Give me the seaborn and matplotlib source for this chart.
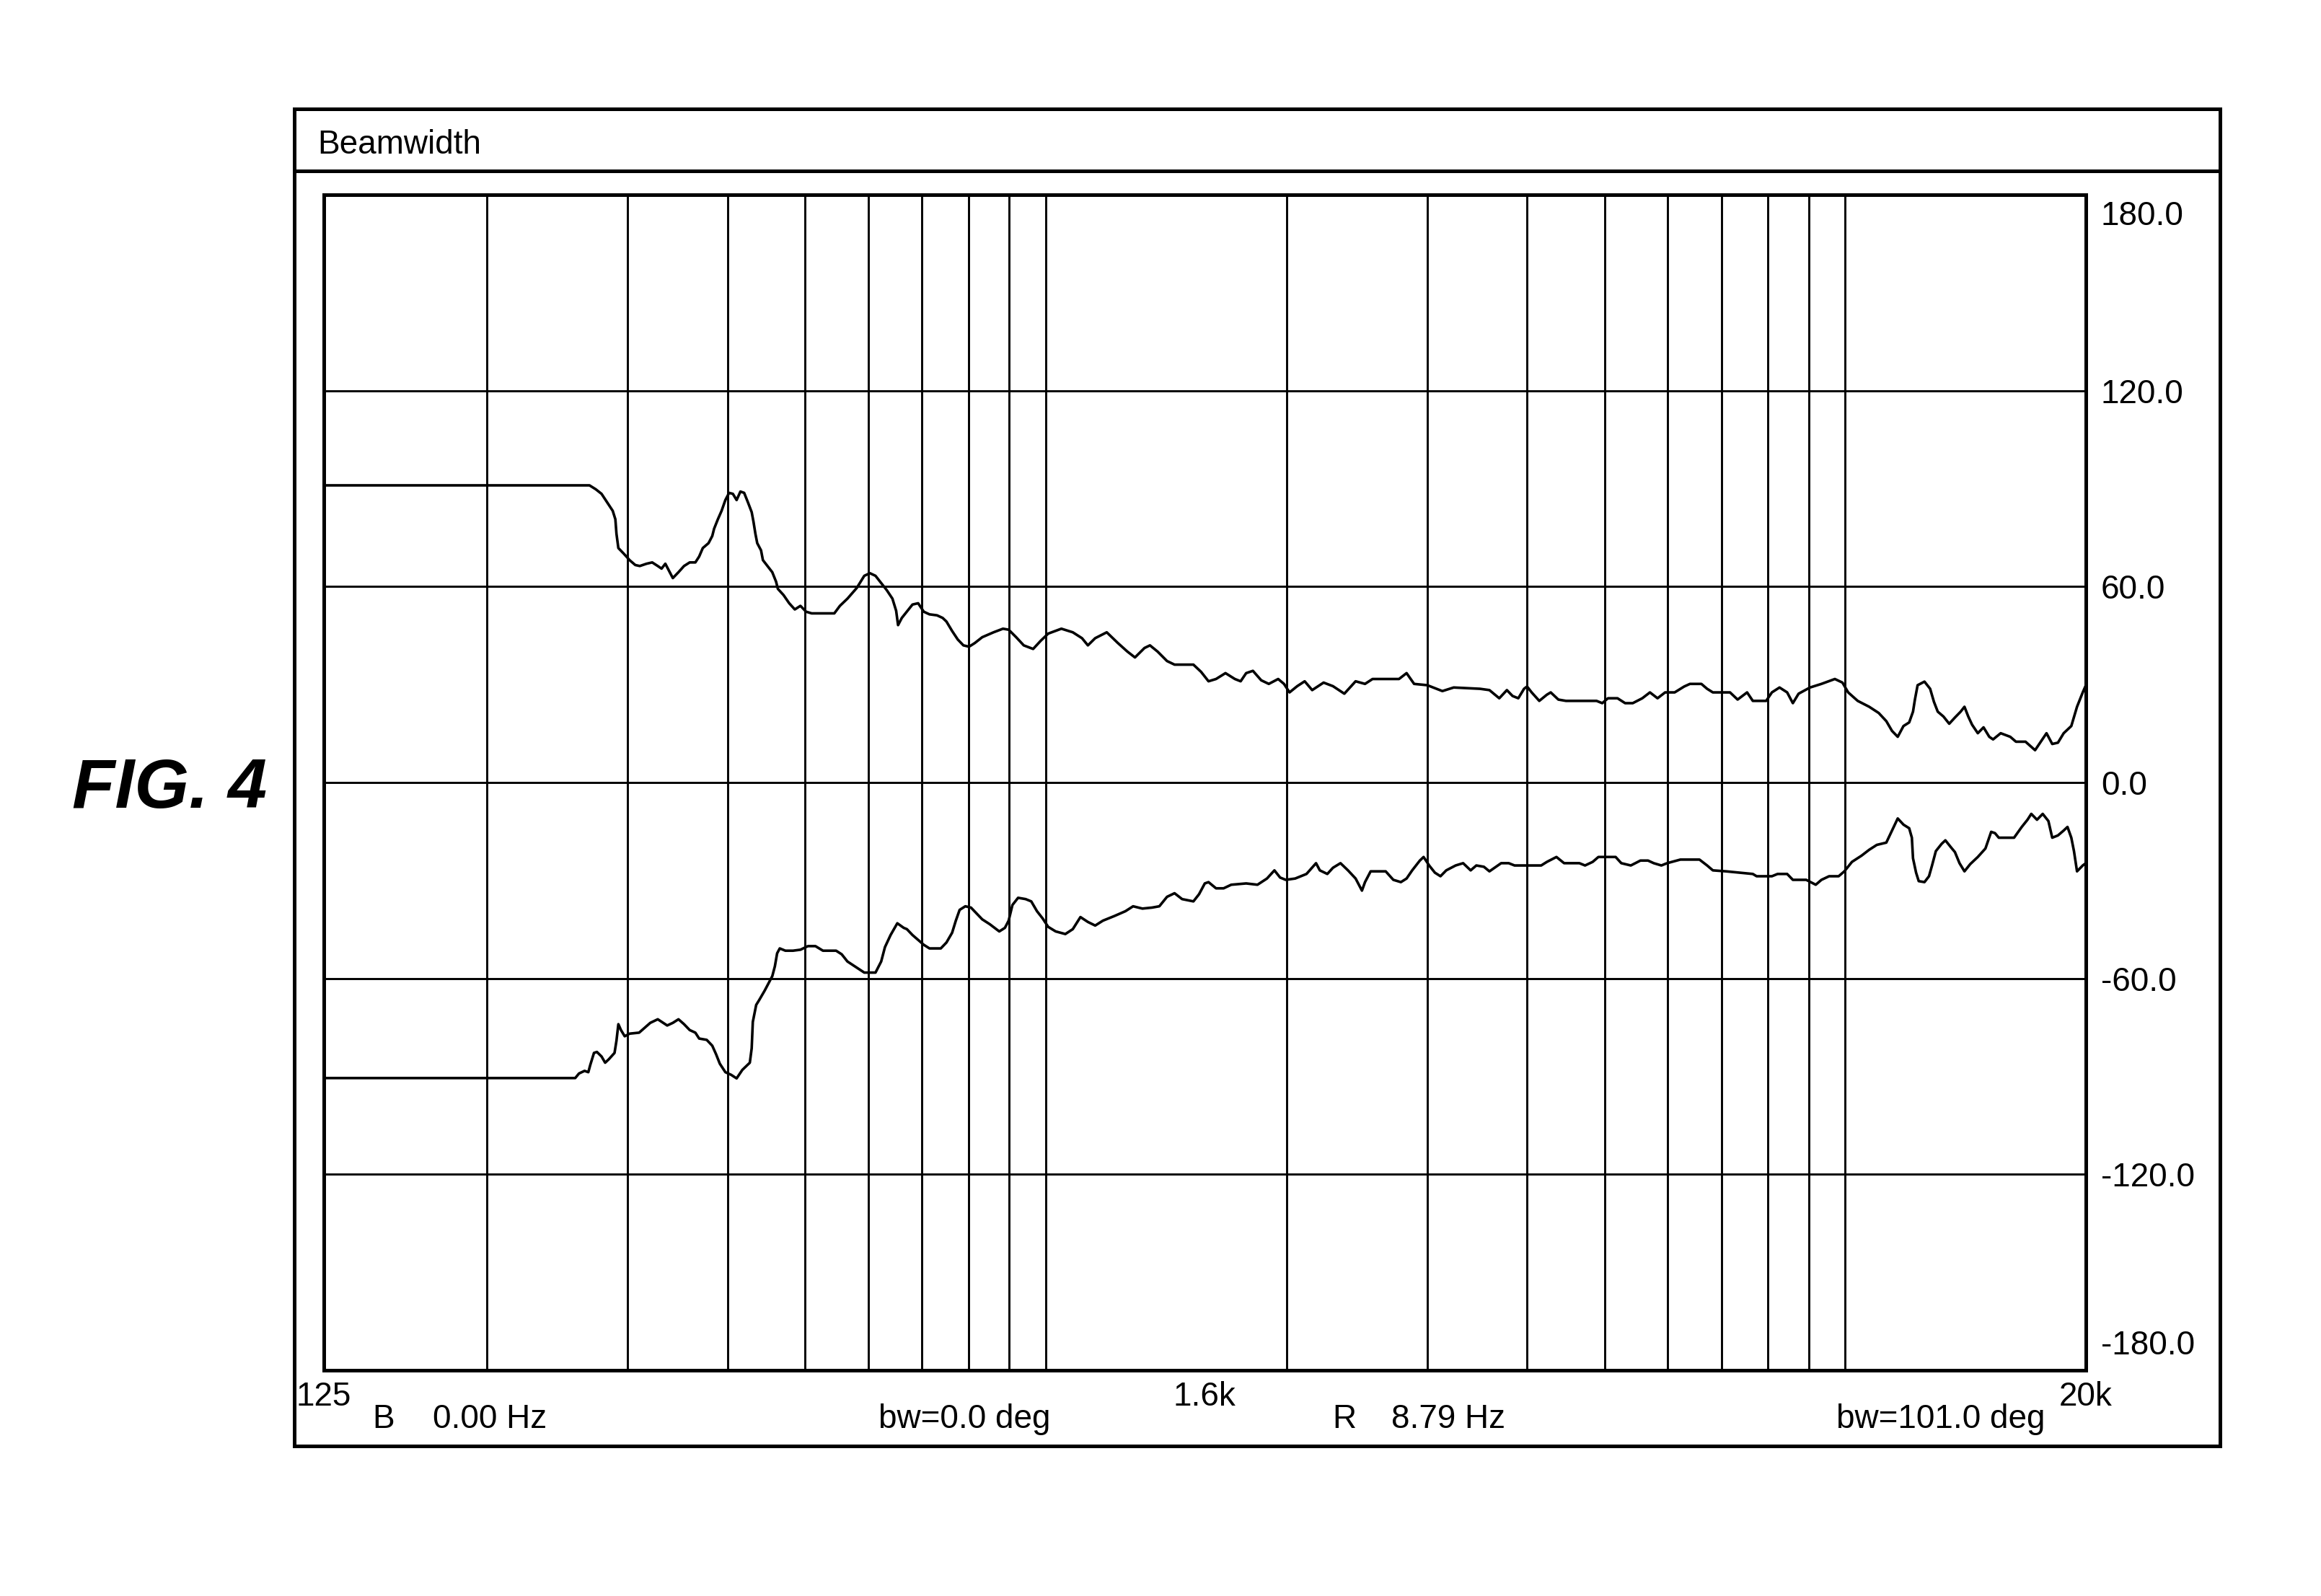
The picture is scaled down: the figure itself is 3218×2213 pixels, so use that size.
import matplotlib
matplotlib.use("Agg")
import matplotlib.pyplot as plt
import seaborn as sns
from matplotlib.patches import Rectangle
from matplotlib.lines import Line2D
from matplotlib.ticker import NullFormatter
from matplotlib.transforms import ScaledTranslation

# upper beamwidth edge (Hz, deg)
upper_freq = [125, 268.7, 273.6, 278.2, 282.7, 287.3, 289.5, 290.4, 292, 296.8, 301.6, 306.6, 310.6,
              316.7, 321.9, 327.1, 330.7, 334.3, 337.9, 341.6, 347.2, 352.8, 358.6, 364.5, 368.5, 372.4,
              378.6, 382.7, 384.7, 388.9, 393.1, 397.4, 401.7, 406.1, 410.5, 415, 419.5, 424.1, 428.7,
              430.9, 433.3, 435.6, 440.4, 442.8, 450, 454.9, 459.9, 462.3, 469.9, 477.6, 485.4, 493.3,
              501.5, 509.6, 543.9, 552.7, 564.8, 580.3, 592.9, 602.6, 612.4, 622.5, 632.6, 643, 649.9,
              653.5, 660.6,
              681.2, 692.4, 703.8, 715.4, 731.1, 743.1, 751.2, 763.6, 776.1, 788.8, 801.8, 815, 832.8,
              860.4, 884.1, 898.6, 918.3, 938.5, 964.3, 985.5, 1007, 1046, 1081, 1110, 1129, 1153, 1192,
              1231, 1265, 1293, 1329, 1350, 1380, 1418, 1449, 1530, 1564, 1598, 1633, 1678, 1724, 1753,
              1781, 1816, 1860, 1901, 1953, 1986, 2018, 2063, 2108, 2154, 2226, 2287, 2363, 2441, 2508,
              2563, 2766, 2827, 2889, 3001, 3134, 3238, 3493, 3589,
              3692, 3774, 3836, 3900, 3965, 4000, 4053, 4143, 4235, 4282, 4377, 4474, 4886, 4967, 5049,
              5190, 5305, 5423, 5574, 5698, 5824, 5953, 6119, 6289, 6394, 6608, 6718, 6830, 7176, 7335,
              7538, 7663, 7964, 8096, 8276, 8460, 8600, 8743, 9036, 9338, 9706, 9921, 10085, 10366,
              10714, 11012, 11256, 11443, 11633, 11827, 12023, 12156, 12223, 12318, 12564, 12771,
              12912, 13054, 13271, 13492, 13716, 13944, 14098, 14254, 14411, 14650, 14894, 15142,
              15309, 15649, 16085, 16352, 16808, 17277, 17564, 17856, 18153, 18454, 18761, 19178,
              19496, 19820, 20000]
upper_deg = [91, 91, 89.8, 88.4, 85.8, 83.2, 80.6, 76.2, 71.8, 70, 68.1, 66.6, 66.3,
             67, 67.4, 66.3, 65.5, 67, 64.8, 62.6, 64.4, 66.3, 67.4, 67.4, 69.2, 71.8,
             73.3, 75.5, 77.7, 80.6, 83.2, 86.5, 88.7, 88.4, 86.5, 89.1, 88.7, 85.8, 82.8,
             79.9, 76.2, 73.3, 71.1, 68.1, 65.9, 64.4, 61.5, 59.3, 57.4, 54.9, 53, 54.1,
             52.3, 51.8, 51.8, 54.1, 56.3, 59.6, 63.3, 64.1, 63.3, 61.1, 58.9, 56.3, 52.6,
             48.2, 50.4,
             54.5, 54.9, 52.3, 51.5, 51.2, 50.4, 49.3, 46.4, 43.8, 42, 41.6, 42.7, 44.5,
             46, 47.1, 46.8, 44.5, 42, 40.9, 43.4, 45.6, 47.1, 46, 44.2, 42, 44.2, 46,
             42.7, 40.1, 38.3, 41.2, 42, 40.1, 37.2, 36.1, 36.1, 33.9, 31, 31.7, 33.5, 31.7, 31,
             33.5, 34.2, 31.3, 30.2, 31.7, 30.2, 27.6, 29.5, 31, 28.3, 30.6, 29.5, 27.2, 31, 30.2,
             31.7, 31.7, 33.5, 30.2, 29.8, 28, 29.1, 28.7, 28.3,
             25.8, 28.3, 26.5, 25.8, 28.7, 29.4, 27.6, 25, 26.9, 27.6, 25.4, 25, 25, 24.3, 25.8,
             25.8, 24.3, 24.3, 25.8, 27.6, 25.8, 27.6, 27.6, 29.4, 30.2, 30.2, 28.7, 27.6, 27.6, 25.4,
             27.6, 25, 25, 27.6, 29.1, 27.6, 24.3, 27.2, 29.1, 30.2, 31.7, 30.6, 27.6, 25,
             23.2, 21.3, 18.8, 15.8, 14, 17.3, 18.4, 21.7, 25.4, 29.8, 30.9, 28.7,
             24.7, 21.7, 20.2, 18, 19.9, 21.7, 23.2, 20.2, 17.7, 15.1, 16.9, 14,
             13.2, 15.1, 14, 12.5, 12.5, 9.9, 12.5, 15.1, 11.8, 12.2, 15.1, 17.3,
             23.2, 27.6, 29.8]

# lower beamwidth edge (Hz, deg)
lower_freq = [125, 257.9, 260.7, 264.9, 267.8, 269.3, 272.2, 274.5, 278.2, 281.1, 284.2, 288.8, 290.4,
              292, 294.2, 297.4, 301.6, 310, 315, 320.1, 327.1, 336.1, 341.6, 347.2, 352.8, 358.6,
              364.5, 368.5, 376.6, 382.7, 386.9, 391.1, 397.4, 404, 410.5, 417.3, 426.4, 428.7, 430.1,
              434.3, 438.1, 445.1, 450, 454.9, 458.3, 461.3, 464.8, 472.4, 482.8, 493.3, 504.1, 515.1,
              526.4, 546.7, 555.6, 564.8, 580.3, 592.9, 612.4, 622.5, 629.3, 639.6, 652.1, 664.2,
              670.3, 681.2, 692.4, 703.8, 715.4, 739.1, 751.2, 763.6, 771.8, 780.3, 793.2, 806.2, 819.4,
              832.8, 851.2, 874.7, 889, 898.6, 908.5, 923.4, 943.7, 959.1, 975, 990.9, 1007, 1029,
              1058, 1081, 1105, 1129, 1153, 1179, 1218, 1258, 1286, 1321, 1358, 1387, 1418, 1449, 1481,
              1530, 1555, 1581, 1598, 1633, 1669, 1706, 1781, 1840, 1891, 1932, 1964, 1996, 2051, 2119,
              2178, 2202, 2250, 2287, 2337, 2388, 2441, 2486, 2508, 2549, 2662, 2721, 2781, 2827, 2873,
              2937, 2969, 3017, 3067, 3117, 3169, 3256, 3327, 3400, 3456, 3532, 3589,
              3712, 3794, 3858, 4166, 4235, 4353, 4450, 4650, 4727, 4832, 4912, 5162, 5247, 5393, 5544,
              5667, 5761, 5889, 5987, 6220, 6572, 6718, 6830, 7096, 7663, 7748, 8096, 8230, 8460, 8600,
              8937, 9186, 9338, 9546, 9812, 9975, 10196, 10481, 10714, 10952, 11256, 11443, 11633,
              11827, 12023, 12116, 12156, 12264, 12358, 12564, 12729, 12841, 12983, 13198, 13344,
              13566, 13716, 13898, 14098, 14332, 14650, 14976, 15225, 15393, 15563, 16263, 16627,
              16904, 17090, 17373, 17661, 17954, 18153, 18454, 18761, 18968, 19178, 19325, 19496,
              19820, 20000]
lower_deg = [-90.5, -90.5, -89.1, -88.3, -88.7, -86.5, -82.8, -82.5, -83.9, -85.8, -84.7, -82.8, -79.1,
             -74, -75.8, -77.7, -76.9, -76.6, -75.1, -73.6, -72.5, -74.4, -73.6, -72.5, -74, -75.8,
             -76.6, -78.4, -78.8, -80.6, -83.2, -86.1, -88.7, -89.5, -90.6, -88, -85.8, -81.4, -73.3,
             -68.1, -66.6, -63.7, -61.5, -59.3, -56.3, -52.3, -50.8, -51.5, -51.5, -51.2, -50.1, -50.1,
             -51.5, -51.5, -52.6, -54.8, -56.7, -58.2, -58.2, -54.8, -50.4, -46.7, -43.1, -44.5,
             -44.9, -46.7, -48.2, -49.7, -50.8, -50.8, -49, -46, -42.3, -39, -37.9, -38.3, -40.1,
             -41.9, -43.4, -45.6, -44.5, -42.3, -37.5, -35.3, -35.7, -36.4, -39.4, -41.6, -44.2, -45.6,
             -46.4, -44.9, -41.2, -42.7, -43.8, -42.3, -40.9, -39.4, -37.9, -38.6, -38.3, -37.9, -35, -33.9, -35.7,
             -36.4, -34.2, -30.9, -30.5, -32.4, -32.4, -31.3, -30.9, -31.3, -29.4, -26.9, -29.1, -29.8, -29.4, -28,
             -24.7, -26.9, -28, -26.1, -24.7, -26.9, -29.4, -33.1, -30.5, -27.2, -27.2, -29.8, -30.5, -29.4, -26.9,
             -23.9, -22.8, -25.4, -27.6, -28.7, -26.9, -25.4, -24.7, -26.9, -25.4, -25.8, -27.2,
             -24.7, -24.7, -25.4, -25.4, -24.3, -22.8, -24.7, -24.7, -25.4, -24.3, -22.8, -22.8, -24.7, -25.4, -23.9,
             -23.9, -24.7, -25.4, -24.7, -23.6, -23.6, -25.4, -26.9, -27.2, -28, -28.7, -28.7, -28, -28, -29.8,
             -29.8, -31.3, -29.8, -28.7, -28.7, -27.2, -24.3, -22.4, -20.6, -19.1, -18.4, -14.7, -11,
             -12.9, -14, -16.9, -23.2, -27.6, -30.2, -30.5, -28.7, -25.4, -21, -18.8, -17.7,
             -19.9, -21.3, -24.7, -27.2, -25, -22.8, -20.2, -15.1, -15.5, -16.9, -16.9, -13.6,
             -11.4, -9.6, -11.4, -9.6, -11.8, -16.9, -16.2, -14.7, -13.6, -16.9, -21, -27.2,
             -25.4, -24.7]

grid_freqs = [200, 300, 400, 500, 600, 700, 800, 900, 1000,
              2000, 3000, 4000, 5000, 6000, 7000, 8000, 9000, 10000]
x_label_freqs = [125, 1581, 20000]
x_labels = ["125", "1.6k", "20k"]
y_ticks = [180, 120, 60, 0, -60, -120, -180]
y_labels = ["180.0", "120.0", "60.0", "0.0", "-60.0", "-120.0", "-180.0"]

sns.set_style("white")
plt.rcParams["font.family"] = ["Liberation Sans", "DejaVu Sans"]
plt.rcParams["text.color"] = "black"
plt.rcParams["xtick.color"] = "black"
plt.rcParams["ytick.color"] = "black"
plt.rcParams["axes.labelcolor"] = "black"

fig = plt.figure(figsize=(32.18, 22.13), dpi=100)
ax = fig.add_axes([0.1395, 0.1414, 0.7592, 0.7366])
ax.set_xscale("log")

sns.lineplot(x=upper_freq, y=upper_deg, color="black", lw=2.6, estimator=None, sort=False, ax=ax)
sns.lineplot(x=lower_freq, y=lower_deg, color="black", lw=2.6, estimator=None, sort=False, ax=ax)

ax.set_xlim(125, 20000)
ax.set_ylim(-180, 180)

# grid
ax.set_xticks(grid_freqs, minor=True)
ax.xaxis.set_minor_formatter(NullFormatter())
ax.set_xticks(x_label_freqs)
ax.set_xticklabels(x_labels)
ax.grid(False)
ax.grid(which="minor", axis="x", color="black", lw=2.1)
ax.grid(which="major", axis="y", color="black", lw=2.1)
ax.tick_params(axis="x", which="both", length=0, labelsize=33, pad=11, colors="black")

ax.yaxis.tick_right()
ax.set_yticks(y_ticks)
ax.set_yticklabels(y_labels)
ax.tick_params(axis="y", length=0, labelsize=33, pad=15, colors="black")
ax.set_xlabel("")
ax.set_ylabel("")

# nudge the end labels inwards like the original
labs = ax.get_yticklabels()
labs[0].set_verticalalignment("top")
labs[0].set_transform(labs[0].get_transform() + ScaledTranslation(0, -8 / 100, fig.dpi_scale_trans))
labs[-1].set_verticalalignment("bottom")
labs[-1].set_transform(labs[-1].get_transform() + ScaledTranslation(0, 12 / 100, fig.dpi_scale_trans))

for s in ax.spines.values():
    s.set_visible(True)
    s.set_color("black")
    s.set_linewidth(3.6)

# outer frame with title bar
fx0, fx1 = 408 / 3218, 3078 / 3218
fy0, fy1 = 1 - 2005 / 2213, 1 - 151 / 2213
fig.patches.append(Rectangle((fx0, fy0), fx1 - fx0, fy1 - fy0, transform=fig.transFigure,
                             fill=False, ec="black", lw=3.6))
ty = 1 - 237 / 2213
fig.add_artist(Line2D([fx0, fx1], [ty, ty], transform=fig.transFigure, color="black", lw=3.6))
fig.text(440 / 3218, 1 - 213 / 2213, "Beamwidth", fontsize=33, va="baseline", ha="left")

# readouts under the plot
by = 1 - 1980 / 2213
fig.text(516 / 3218, by, "B", fontsize=33, va="baseline")
fig.text(600 / 3218, by, "0.00 Hz", fontsize=33, va="baseline")
fig.text(1218 / 3218, by, "bw=0.0 deg", fontsize=33, va="baseline")
fig.text(1847 / 3218, by, "R", fontsize=33, va="baseline")
fig.text(1929 / 3218, by, "8.79 Hz", fontsize=33, va="baseline")
fig.text(2546 / 3218, by, "bw=101.0 deg", fontsize=33, va="baseline")

fig.text(100 / 3218, 1 - 1120 / 2213, "FIG. 4", fontsize=70, fontweight="bold",
         fontstyle="italic", va="baseline", ha="left")

fig.savefig("out.png", dpi=100)
